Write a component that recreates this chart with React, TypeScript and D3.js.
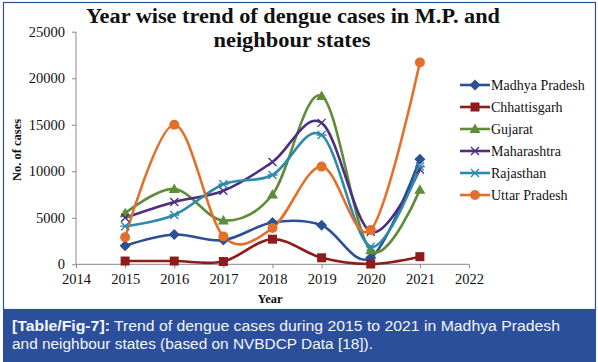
import React, { useEffect, useRef } from "react";
import * as d3 from "d3";

const YEARS = [2015, 2016, 2017, 2018, 2019, 2020, 2021];
const X_TICKS = [2014, 2015, 2016, 2017, 2018, 2019, 2020, 2021, 2022];
const Y_TICKS = [0, 5000, 10000, 15000, 20000, 25000];

const MADHYA_PRADESH = [2000, 3200, 2600, 4500, 4200, 700, 11300];
const CHHATTISGARH = [350, 350, 300, 2700, 700, 30, 820];
const GUJARAT = [5500, 8100, 4700, 7500, 18100, 1500, 8000];
const MAHARASHTRA = [5000, 6700, 7900, 11000, 15200, 3500, 10200];
const RAJASTHAN = [4100, 5300, 8600, 9600, 13900, 1900, 10500];
const UTTAR_PRADESH = [2900, 15000, 3000, 3900, 10500, 3700, 21700];

const SERIES = [
  { name: "Madhya Pradesh", values: MADHYA_PRADESH, color: "#2b5097", marker: "diamond" },
  { name: "Chhattisgarh", values: CHHATTISGARH, color: "#8e1c1c", marker: "square" },
  { name: "Gujarat", values: GUJARAT, color: "#5e8c38", marker: "triangle" },
  { name: "Maharashtra", values: MAHARASHTRA, color: "#4c2e82", marker: "x" },
  { name: "Rajasthan", values: RAJASTHAN, color: "#2c8bab", marker: "star" },
  { name: "Uttar Pradesh", values: UTTAR_PRADESH, color: "#e2702b", marker: "circle" },
];

function drawMarker(g, kind, cx, cy, color) {
  if (kind === "diamond") {
    g.append("path").attr("d", `M${cx},${cy - 5.5}L${cx + 5.5},${cy}L${cx},${cy + 5.5}L${cx - 5.5},${cy}Z`).attr("fill", color);
  } else if (kind === "square") {
    g.append("rect").attr("x", cx - 4.5).attr("y", cy - 4.5).attr("width", 9).attr("height", 9).attr("fill", color);
  } else if (kind === "triangle") {
    g.append("path").attr("d", `M${cx},${cy - 5.5}L${cx + 5.5},${cy + 4}L${cx - 5.5},${cy + 4}Z`).attr("fill", color);
  } else if (kind === "x") {
    g.append("path").attr("d", `M${cx - 4},${cy - 4}L${cx + 4},${cy + 4}M${cx + 4},${cy - 4}L${cx - 4},${cy + 4}`)
      .attr("stroke", color).attr("stroke-width", 1.4);
  } else if (kind === "star") {
    g.append("path").attr("d", `M${cx - 4},${cy - 4}L${cx + 4},${cy + 4}M${cx + 4},${cy - 4}L${cx - 4},${cy + 4}M${cx - 5},${cy}L${cx + 5},${cy}`)
      .attr("stroke", color).attr("stroke-width", 1.4);
  } else {
    g.append("circle").attr("cx", cx).attr("cy", cy).attr("r", 5).attr("fill", color);
  }
}

export default function App() {
  const svgRef = useRef(null);

  useEffect(() => {
    const svg = d3.select(svgRef.current);
    svg.selectAll("*").remove();
    const serif = "'Liberation Serif', 'Times New Roman', serif";
    const sans = "'Liberation Sans', Arial, sans-serif";

    // frame and caption box
    svg.append("rect").attr("x", 0).attr("y", 0).attr("width", 598).attr("height", 362).attr("fill", "#fff");
    svg.append("rect").attr("x", 3.5).attr("y", 2.5).attr("width", 592).attr("height", 307)
      .attr("fill", "#fff").attr("stroke", "#2d4f93").attr("stroke-width", 1.2);
    svg.append("rect").attr("x", 3).attr("y", 309).attr("width", 593).attr("height", 53).attr("fill", "#2b4f9b");

    const x = d3.scaleLinear().domain([2014, 2022]).range([76, 469]);
    const y = d3.scaleLinear().domain([0, 25000]).range([264.3, 31.7]);

    // axes
    const xAxis = svg.append("g").attr("transform", `translate(0,${y(0)})`)
      .call(d3.axisBottom(x).tickValues(X_TICKS).tickFormat(d3.format("d")).tickSize(4).tickPadding(5));
    const yAxis = svg.append("g").attr("transform", `translate(${x(2014)},0)`)
      .call(d3.axisLeft(y).tickValues(Y_TICKS).tickFormat(d3.format("d")).tickSize(4).tickPadding(7));
    [xAxis, yAxis].forEach(a => {
      a.selectAll("path,line").attr("stroke", "#888").attr("stroke-width", 1);
      a.selectAll("text").attr("font-family", serif).attr("font-size", 14.5).attr("fill", "#111");
    });
    xAxis.select(".domain").attr("d", `M${x(2014)},0H${x(2022)}`);
    yAxis.select(".domain").attr("d", `M0,${y(0)}V${y(25000)}`);

    // lines
    const line = d3.line().curve(d3.curveCardinal.tension(0))
      .x((d, i) => x(YEARS[i])).y(d => y(d));
    SERIES.forEach(s => {
      svg.append("path").attr("d", line(s.values)).attr("fill", "none")
        .attr("stroke", s.color).attr("stroke-width", 2.6);
    });
    SERIES.forEach(s => {
      const g = svg.append("g");
      s.values.forEach((v, i) => drawMarker(g, s.marker, x(YEARS[i]), y(v), s.color));
    });

    // title
    const title = svg.append("text").attr("font-family", serif).attr("font-weight", "bold")
      .attr("font-size", 20).attr("text-anchor", "middle").attr("fill", "#111");
    title.append("tspan").attr("x", 293).attr("y", 23)
      .attr("textLength", 414).attr("lengthAdjust", "spacingAndGlyphs")
      .text("Year wise  trend of dengue cases in M.P. and");
    title.append("tspan").attr("x", 292).attr("y", 47)
      .attr("textLength", 157).attr("lengthAdjust", "spacingAndGlyphs")
      .text("neighbour states");

    // axis titles
    svg.append("text").attr("transform", `translate(21,${y(12500) + 2}) rotate(-90)`)
      .attr("text-anchor", "middle").attr("font-family", serif).attr("font-weight", "bold")
      .attr("font-size", 12.5).attr("fill", "#111").text("No. of cases");
    svg.append("text").attr("x", 270).attr("y", 303).attr("text-anchor", "middle")
      .attr("font-family", serif).attr("font-weight", "bold").attr("font-size", 12.5)
      .attr("fill", "#111").text("Year");

    // legend
    SERIES.forEach((s, i) => {
      const ly = 85 + i * 22;
      const g = svg.append("g");
      g.append("line").attr("x1", 460).attr("x2", 490).attr("y1", ly).attr("y2", ly)
        .attr("stroke", s.color).attr("stroke-width", 2.6);
      drawMarker(g, s.marker, 475, ly, s.color);
      g.append("text").attr("x", 491).attr("y", ly + 4.5).attr("font-family", serif)
        .attr("font-size", 14).attr("fill", "#111").text(s.name);
    });

    // caption
    const cap = svg.append("text").attr("font-family", sans).attr("font-size", 14).attr("fill", "#f4f6fa");
    const l1 = cap.append("tspan").attr("x", 12).attr("y", 330.5)
      .attr("textLength", 548).attr("lengthAdjust", "spacingAndGlyphs");
    l1.append("tspan").attr("font-weight", "bold").text("[Table/Fig-7]:");
    l1.append("tspan").text(" Trend of dengue cases during 2015 to 2021 in Madhya Pradesh");
    cap.append("tspan").attr("x", 12).attr("y", 348.5)
      .attr("textLength", 361).attr("lengthAdjust", "spacingAndGlyphs")
      .text("and neighbour states (based on NVBDCP Data [18]).");
  }, []);

  return (
    <div style={{ position: "fixed", left: 0, top: 0 }}>
      <svg ref={svgRef} width={598} height={362} style={{ display: "block" }} />
    </div>
  );
}
